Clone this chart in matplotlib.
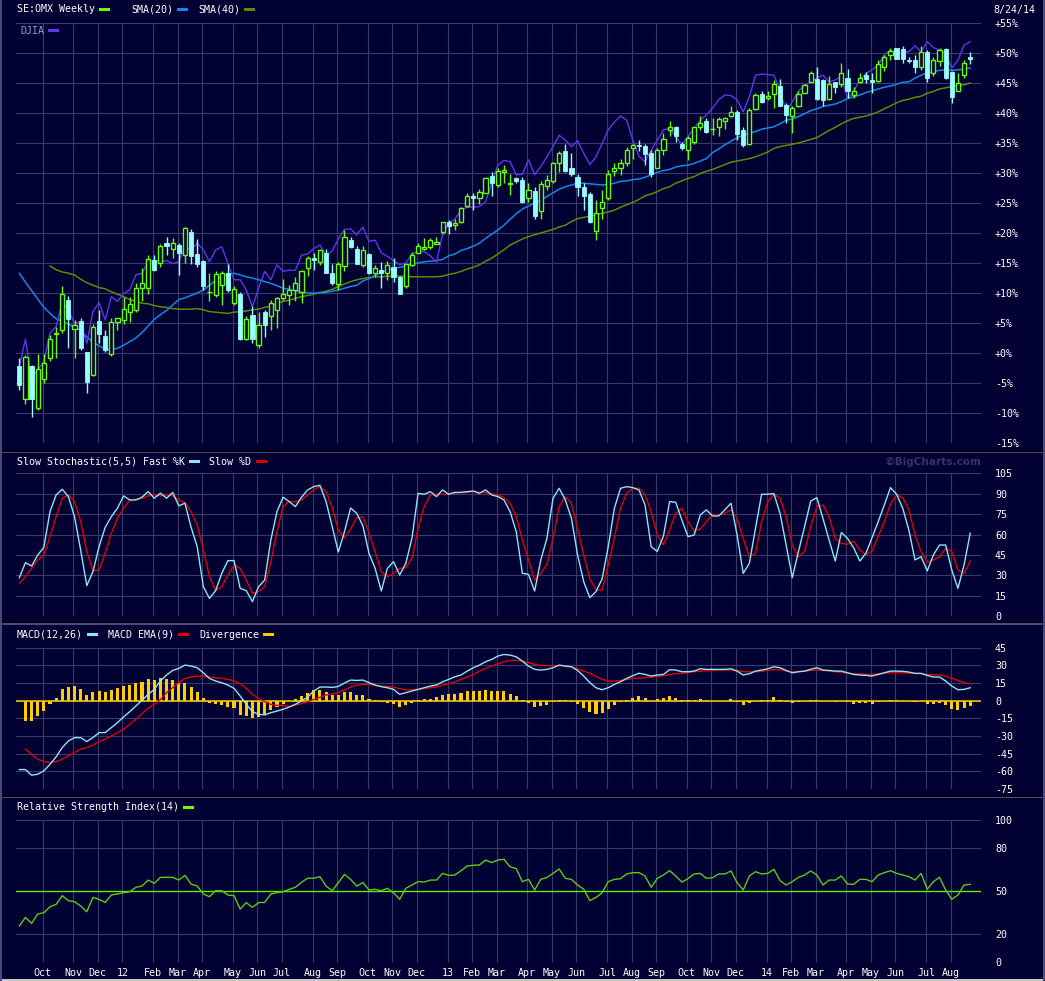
import numpy as np
import pandas as pd
import matplotlib
matplotlib.use("Agg")
import matplotlib.pyplot as plt
from matplotlib.patches import Rectangle

W, H = 1045, 981
BG      = "#000032"
GRID    = "#3a3a6c"
UP      = "#66ff00"
DOWN    = "#99ffff"
DJIA_C  = "#6035f0"
SMA20_C = "#1188e8"
SMA40_C = "#5f8a00"
K_C     = "#8ee6f2"
D_C     = "#e00000"
DIV_C   = "#ffcc00"
RSI_C   = "#5ccc10"
FONT    = "DejaVu Sans Mono"
FS      = 7.2

# weekly bars (week labelled by its Sunday), 2011-09-04 .. 2014-08-24
dates = pd.date_range("2011-09-04", "2014-08-24", freq="7D")

# --- SE:OMX weekly candles, % change ---
opens = [
    -2.2, -7.6, -2.2, -9.1, -4.4, -0.9, 3.1, 3.9, 8.8, 4.0,          # 0
    5.4, 0.2, -3.7, 5.4, 2.9, -0.2, 5.2, 5.5, 6.9, 7.2,               # 10
    10.8, 10.8, 15.5, 15.0, 18.3, 17.4, 18.0, 16.3, 20.2, 16.5,       # 20
    15.4, 10.1, 9.7, 11.3, 13.3, 8.4, 9.9, 2.3, 6.3, 1.4,             # 30
    6.9, 6.1, 7.2, 9.2, 9.6, 10.5, 10.2, 14.1, 15.8, 15.2,            # 40
    16.7, 13.3, 11.5, 14.5, 18.8, 17.3, 14.7, 16.5, 13.4, 13.9,       # 50
    13.3, 14.4, 12.7, 11.1, 14.7, 16.7, 17.3, 17.7, 18.2, 20.2,       # 60
    21.8, 21.3, 21.8, 24.5, 26.2, 25.9, 26.7, 29.5, 28.0, 30.2,       # 70
    28.1, 29.1, 28.8, 25.8, 27.0, 23.6, 27.8, 28.7, 31.6, 33.6,       # 80
    30.9, 29.4, 27.7, 26.5, 20.3, 24.1, 25.8, 30.4, 30.9, 31.6,       # 90
    34.1, 34.7, 34.5, 33.4, 30.9, 33.9, 37.2, 37.6, 34.8, 33.9,       # 100
    35.1, 37.7, 38.7, 37.3, 37.6, 38.6, 39.5, 40.2, 37.1, 34.8,       # 110
    40.6, 43.2, 42.5, 43.2, 44.5, 41.3, 39.5, 41.1, 43.4, 45.2,       # 120
    45.6, 45.5, 42.4, 45.1, 44.8, 45.8, 43.0, 45.2, 46.4, 45.5,       # 130
    45.4, 47.7, 49.7, 50.8, 50.6, 48.8, 48.8, 47.7, 50.1, 46.7,       # 140
    48.7, 50.6, 46.9, 43.7, 46.3, 49.3,                               # 150
]
highs = [
    -0.8, -0.3, -2.0, -0.2, -0.2, 3.0, 4.4, 11.2, 9.5, 5.5,
    5.8, 0.2, 4.9, 7.2, 3.8, 5.8, 5.9, 9.4, 9.4, 11.6,
    14.1, 16.3, 16.3, 18.2, 19.4, 19.1, 18.3, 21.0, 20.7, 19.0,
    15.5, 13.3, 13.6, 13.6, 14.9, 11.1, 10.2, 6.1, 7.8, 6.9,
    7.2, 8.8, 9.4, 12.3, 11.3, 12.7, 13.8, 16.1, 16.6, 17.4,
    17.3, 14.9, 15.2, 20.5, 19.3, 17.8, 17.8, 16.7, 14.7, 15.2,
    15.4, 15.8, 12.8, 14.9, 16.9, 18.3, 19.1, 19.1, 19.4, 21.9,
    22.1, 22.3, 24.3, 26.6, 26.7, 27.3, 29.4, 30.2, 30.8, 31.3,
    29.9, 29.4, 29.4, 28.3, 27.6, 28.6, 29.7, 31.9, 33.6, 34.8,
    33.3, 29.8, 28.3, 26.9, 25.5, 27.2, 30.5, 31.6, 32.4, 34.4,
    34.9, 35.5, 34.8, 33.8, 34.1, 36.6, 38.6, 37.8, 35.1, 36.2,
    37.7, 39.5, 39.1, 39.1, 39.3, 39.4, 41.2, 40.5, 37.7, 40.8,
    43.3, 43.6, 43.6, 45.5, 45.6, 41.6, 41.1, 43.7, 44.9, 47.0,
    47.6, 45.6, 46.1, 45.2, 48.3, 47.3, 44.4, 46.7, 46.9, 46.6,
    48.8, 49.7, 50.8, 50.9, 51.2, 49.4, 49.7, 51.1, 50.5, 49.3,
    50.9, 50.9, 47.0, 46.6, 48.8, 50.1,
]
lows = [
    -6.2, -8.5, -10.7, -9.5, -5.0, -1.4, -0.9, 3.3, 0.8, -0.9,
    0.5, -6.6, -3.9, 1.6, 0.2, -0.5, 3.8, 4.9, 5.2, 6.9,
    8.6, 9.9, 13.6, 14.4, 16.3, 15.8, 13.0, 15.0, 14.9, 14.4,
    10.5, 8.6, 9.4, 8.0, 10.2, 8.0, 2.2, 2.2, 1.6, 0.8,
    2.7, 3.9, 4.1, 8.8, 8.0, 8.6, 8.3, 12.8, 13.8, 14.7,
    13.3, 11.3, 10.5, 13.6, 17.5, 14.9, 14.4, 13.2, 12.7, 10.8,
    12.2, 11.9, 9.8, 10.9, 14.5, 16.6, 17.1, 17.3, 18.2, 19.9,
    19.8, 20.5, 21.6, 24.4, 23.8, 24.8, 26.6, 26.2, 27.6, 28.3,
    26.3, 28.3, 25.0, 25.2, 22.3, 22.4, 27.1, 28.3, 30.2, 30.2,
    29.5, 26.1, 23.8, 21.6, 18.8, 22.4, 25.5, 29.5, 29.7, 31.1,
    32.4, 33.6, 31.3, 29.4, 30.8, 33.0, 36.1, 35.2, 33.9, 32.2,
    34.9, 37.2, 36.7, 36.3, 36.1, 37.3, 39.4, 35.5, 34.4, 34.7,
    40.5, 41.6, 42.2, 40.8, 41.1, 38.3, 36.7, 41.0, 43.3, 45.1,
    42.1, 41.2, 42.2, 43.3, 44.4, 42.5, 42.5, 45.0, 45.0, 43.4,
    45.2, 47.0, 48.9, 49.0, 48.3, 48.3, 46.7, 47.2, 45.2, 46.2,
    47.8, 45.6, 41.6, 43.6, 45.9, 48.2,
]
closes = [
    -5.3, -0.7, -7.6, -2.6, -1.6, 2.4, 3.4, 9.9, 5.7, 4.7,
    0.8, -4.8, 4.4, 3.2, 0.5, 5.2, 5.8, 7.4, 8.2, 10.8,
    11.6, 15.6, 13.9, 17.8, 17.8, 18.4, 16.6, 20.8, 16.1, 14.9,
    11.1, 10.2, 13.1, 13.3, 10.5, 10.6, 2.3, 5.6, 2.3, 4.7,
    4.7, 8.3, 9.1, 9.8, 10.5, 11.6, 13.7, 15.8, 15.5, 17.1,
    13.4, 11.7, 14.9, 19.4, 17.7, 14.9, 17.1, 13.3, 14.1, 13.4,
    14.7, 12.7, 9.9, 14.8, 16.3, 17.8, 17.6, 18.8, 18.5, 21.8,
    21.2, 21.6, 24.1, 26.2, 25.9, 26.8, 29.1, 28.3, 30.4, 30.5,
    28.3, 28.7, 25.2, 27.2, 22.8, 28.2, 28.9, 31.6, 33.3, 30.4,
    29.9, 27.7, 26.2, 21.9, 23.3, 25.1, 29.8, 30.9, 31.6, 33.9,
    34.6, 34.5, 33.2, 29.9, 33.9, 35.6, 37.7, 36.1, 34.1, 35.8,
    37.6, 38.3, 36.9, 37.4, 39.0, 39.1, 40.2, 36.5, 34.7, 40.5,
    43.0, 41.9, 42.8, 44.8, 41.2, 39.7, 40.8, 43.2, 44.7, 46.7,
    42.3, 42.2, 44.8, 44.3, 46.7, 43.6, 43.7, 45.8, 45.6, 45.2,
    48.2, 49.3, 50.3, 49.0, 49.0, 48.6, 47.7, 50.1, 45.9, 48.8,
    50.5, 45.8, 42.7, 45.0, 48.4, 49.0,
]
djia = [
    -2.3, 2.3, -4.2, -2.8, -1.4, 3.3, 4.4, 8.6, 7.2, 4.9,
    5.2, 1.6, 6.9, 8.4, 5.5, 9.4, 8.6, 9.9, 10.5, 13.0,
    13.3, 15.2, 15.5, 15.2, 15.4, 14.9, 15.2, 17.7, 17.2, 18.3,
    17.2, 15.2, 17.2, 17.7, 14.9, 12.2, 12.2, 10.5, 7.7, 10.8,
    13.6, 12.2, 14.7, 13.6, 13.8, 13.8, 16.3, 16.5, 17.4, 18.0,
    16.3, 17.0, 19.0, 20.6, 20.7, 19.7, 21.0, 18.6, 18.8, 16.7,
    16.1, 15.4, 14.7, 15.0, 16.5, 16.9, 16.9, 16.2, 15.1, 19.8,
    21.6, 22.3, 23.8, 24.3, 24.3, 24.4, 25.2, 28.3, 31.3, 32.1,
    31.9, 29.7, 29.8, 32.2, 29.7, 31.1, 32.7, 34.4, 36.3, 35.5,
    34.4, 35.4, 33.3, 31.4, 32.7, 34.9, 37.2, 38.5, 39.5, 38.8,
    35.5, 32.8, 31.9, 33.8, 35.5, 37.2, 37.4, 36.1, 34.7, 36.1,
    37.4, 38.8, 39.7, 40.8, 42.2, 43.0, 42.9, 42.2, 40.2, 42.7,
    46.3, 46.5, 46.4, 46.3, 43.8, 40.2, 41.9, 43.6, 44.7, 45.1,
    45.8, 46.3, 45.2, 45.5, 46.1, 42.4, 43.6, 45.5, 46.6, 47.2,
    48.0, 49.7, 50.5, 49.4, 50.2, 50.2, 51.2, 50.2, 51.9, 50.9,
    50.5, 49.9, 47.5, 48.8, 51.3, 51.9,
]
sma20 = [
    13.3, 11.8, 10.4, 9.0, 7.6, 6.6, 5.7, 5.3, 4.8, 4.3,
    3.7, 2.7, 1.8, 1.2, 0.6, 0.55, 0.8, 1.3, 1.9, 2.5,
    3.4, 4.5, 5.6, 6.4, 7.1, 8.0, 8.9, 9.2, 9.6, 10.0,
    10.5, 11.3, 12.1, 12.8, 13.1, 13.3, 13.0, 12.7, 12.5, 12.2,
    11.9, 11.6, 11.2, 10.8, 10.6, 10.4, 10.1, 10.0, 10.0, 10.0,
    10.1, 10.3, 10.5, 10.8, 11.1, 11.3, 12.0, 12.4, 12.9, 13.4,
    13.8, 14.1, 14.3, 14.5, 14.8, 15.0, 15.2, 15.3, 15.4, 15.6,
    16.2, 16.5, 17.1, 17.4, 17.8, 18.3, 19.1, 19.8, 20.5, 21.3,
    22.3, 23.2, 24.0, 24.5, 25.0, 25.5, 26.1, 26.7, 27.3, 27.7,
    28.0, 28.3, 28.3, 28.2, 28.1, 28.0, 28.1, 28.3, 28.6, 28.7,
    28.9, 29.0, 29.3, 29.7, 30.1, 30.4, 30.6, 31.0, 31.2, 31.3,
    31.6, 32.0, 32.4, 33.4, 34.0, 34.7, 35.3, 35.9, 36.3, 36.6,
    36.9, 37.3, 37.5, 37.7, 38.2, 38.8, 39.0, 39.4, 39.9, 40.4,
    40.7, 41.1, 41.3, 41.5, 41.9, 42.4, 42.7, 43.0, 43.4, 43.7,
    44.0, 44.3, 44.5, 44.8, 45.1, 45.2, 45.8, 46.3, 46.7, 46.9,
    47.1, 47.2, 47.1, 47.2, 47.3, 47.5,
]
sma40 = [
    np.nan, np.nan, np.nan, np.nan, np.nan, 14.5, 13.9, 13.5, 13.3, 13.0,
    12.3, 11.7, 11.3, 10.9, 10.7, 10.2, 9.8, 9.4, 8.9, 8.6,
    8.3, 8.2, 7.9, 7.7, 7.6, 7.4, 7.3, 7.3, 7.3, 7.4,
    7.2, 6.9, 6.8, 6.7, 6.6, 6.8, 6.9, 7.0, 7.2, 7.3,
    7.6, 7.8, 8.2, 8.6, 8.8, 9.1, 9.4, 9.6, 9.8, 10.1,
    10.3, 10.6, 11.1, 11.5, 11.9, 12.2, 12.4, 12.6, 12.7, 12.7,
    12.8, 12.8, 12.8, 12.8, 12.7, 12.7, 12.7, 12.7, 12.7, 12.8,
    13.1, 13.3, 13.6, 14.0, 14.3, 14.7, 15.3, 15.8, 16.5, 17.2,
    18.0, 18.5, 19.0, 19.4, 19.7, 20.0, 20.3, 20.6, 21.0, 21.3,
    21.9, 22.4, 22.6, 22.8, 23.0, 23.3, 23.5, 23.8, 24.3, 24.7,
    25.1, 25.6, 26.2, 26.5, 26.9, 27.4, 27.7, 28.3, 28.7, 29.1,
    29.4, 29.9, 30.3, 30.6, 31.0, 31.4, 31.8, 32.0, 32.2, 32.4,
    32.7, 33.1, 33.5, 34.1, 34.4, 34.6, 34.8, 35.0, 35.3, 35.6,
    35.9, 36.5, 37.1, 37.6, 38.2, 38.7, 39.1, 39.3, 39.5, 39.8,
    40.2, 40.7, 41.2, 41.7, 42.1, 42.3, 42.6, 42.8, 43.3, 43.6,
    44.0, 44.2, 44.4, 44.6, 44.7, 45.0,
]

# --- Slow stochastic (5,5) ---
fast_k = [
    28.2, 39.3, 36.8, 44.9, 50.6, 76.9, 89.2, 93.4, 88.0, 73.2,
    48.6, 22.4, 32.7, 51.1, 65.4, 73.2, 79.4, 88.5, 85.5, 85.5,
    87.5, 91.7, 86.8, 90.5, 86.8, 91.0, 81.2, 83.1, 65.4, 51.1,
    21.6, 13.0, 18.7, 31.5, 40.8, 40.8, 20.4, 18.7, 10.6, 21.6,
    26.5, 56.0, 76.9, 87.5, 84.3, 80.6, 87.5, 92.9, 95.3, 96.3,
    84.3, 66.0, 47.2, 62.0, 79.6, 75.7, 66.6, 46.2, 35.1, 18.4,
    35.1, 40.0, 30.2, 38.8, 57.2, 90.4, 89.7, 91.6, 88.0, 92.9,
    89.7, 91.1, 91.1, 91.6, 92.1, 90.4, 92.9, 89.2, 88.0, 85.5,
    76.9, 62.2, 31.5, 30.7, 18.4, 41.3, 57.2, 86.8, 94.1, 85.5,
    72.0, 45.0, 25.3, 13.5, 18.0, 27.3, 51.1, 79.4, 94.1, 95.3,
    94.6, 92.9, 81.8, 51.1, 47.6, 59.0, 84.3, 83.8, 70.7, 58.5,
    59.7, 74.5, 78.2, 73.7, 73.7, 78.2, 83.1, 59.7, 31.4, 38.8,
    64.6, 89.7, 89.7, 90.2, 75.7, 52.3, 28.2, 47.4, 65.8, 84.7,
    87.2, 71.9, 56.0, 40.5, 61.6, 57.2, 50.3, 40.5, 46.2, 57.7,
    69.5, 81.8, 94.6, 89.7, 79.4, 63.4, 41.3, 43.7, 33.2, 45.0,
    52.3, 52.3, 33.9, 20.4, 37.6, 61.0,
]
slow_d = [
    24.1, 29.0, 35.1, 41.3, 44.9, 58.5, 73.2, 86.8, 89.2, 84.3,
    69.6, 47.5, 33.4, 33.9, 46.2, 61.0, 72.0, 79.4, 85.5, 86.0,
    86.8, 88.5, 89.2, 88.5, 89.2, 88.5, 85.5, 83.6, 76.9, 67.1,
    48.6, 29.0, 18.7, 21.6, 30.2, 37.6, 35.1, 26.5, 16.7, 17.9,
    21.6, 40.0, 62.2, 80.6, 84.3, 84.3, 85.5, 89.2, 92.9, 95.3,
    91.7, 80.0, 63.4, 57.5, 64.0, 72.5, 73.0, 61.0, 47.4, 32.7,
    29.0, 31.4, 35.1, 35.6, 42.5, 64.6, 80.6, 89.2, 89.7, 89.7,
    90.2, 90.4, 90.9, 91.1, 91.6, 91.1, 90.9, 89.9, 89.2, 87.2,
    83.0, 73.2, 56.0, 41.3, 26.5, 31.4, 38.1, 57.2, 80.6, 88.0,
    83.0, 64.6, 45.0, 27.3, 19.2, 19.2, 37.6, 57.7, 79.4, 90.4,
    94.1, 94.1, 89.2, 76.9, 59.7, 52.3, 63.4, 75.7, 79.4, 69.5,
    62.6, 64.1, 69.5, 74.9, 74.5, 75.7, 78.2, 72.0, 57.2, 43.7,
    46.2, 69.5, 84.3, 89.7, 86.8, 73.2, 52.3, 43.7, 47.4, 65.8,
    80.6, 81.8, 73.2, 57.2, 53.5, 52.8, 55.2, 48.6, 45.4, 47.9,
    58.5, 69.5, 82.3, 89.2, 87.2, 78.2, 59.7, 47.4, 39.6, 41.3,
    43.7, 49.9, 47.4, 33.9, 31.4, 40.5,
]

# --- MACD (12,26), EMA(9), divergence ---
macd = [
    -58.5, -58.5, -63.3, -62.4, -59.6, -54.0, -47.7, -39.8, -34.2, -31.4,
    -31.4, -34.7, -31.4, -27.1, -27.1, -22.9, -18.6, -13.8, -9.3, -4.5,
    0.3, 5.4, 9.6, 16.7, 21.8, 25.7, 27.4, 30.2, 29.4, 28.0,
    23.7, 18.9, 16.7, 15.3, 13.3, 10.5, 4.0, -3.1, -9.3, -11.6,
    -12.1, -10.2, -8.8, -7.3, -5.4, -3.1, -0.3, 3.1, 8.2, 11.6,
    11.6, 11.3, 12.1, 15.0, 17.5, 17.2, 17.5, 15.3, 13.3, 11.9,
    11.0, 9.6, 5.4, 6.8, 8.2, 9.6, 11.0, 12.4, 13.3, 16.1,
    18.1, 20.3, 21.8, 25.1, 28.0, 30.2, 33.1, 35.0, 37.9, 39.3,
    38.7, 37.3, 33.6, 29.4, 26.6, 26.0, 26.6, 28.0, 30.2, 29.4,
    28.8, 25.7, 20.9, 15.3, 11.0, 9.3, 11.0, 13.8, 16.1, 18.9,
    21.2, 23.3, 22.3, 20.9, 21.8, 22.3, 26.3, 26.0, 24.6, 24.6,
    25.1, 27.1, 26.6, 26.6, 26.6, 26.6, 27.1, 25.1, 21.8, 22.9,
    25.1, 26.0, 27.1, 28.8, 28.0, 25.7, 23.7, 24.6, 25.1, 26.6,
    28.0, 26.0, 25.7, 25.1, 25.1, 23.7, 22.3, 21.8, 21.5, 20.9,
    22.3, 23.7, 25.1, 25.1, 24.9, 24.3, 23.2, 23.2, 21.5, 20.1,
    20.1, 16.7, 12.4, 9.3, 9.6, 11.0,
]
macd_ema = [
    np.nan, -41.2, -45.5, -49.7, -51.7, -52.5, -51.7, -49.7, -46.9, -44.1,
    -41.2, -39.8, -37.6, -34.7, -32.8, -29.9, -27.1, -24.3, -20.1, -15.8,
    -11.0, -6.5, -3.1, 1.1, 6.8, 11.0, 15.3, 18.9, 20.1, 20.9,
    20.9, 20.1, 19.5, 18.9, 18.1, 16.7, 14.4, 10.5, 5.4, 2.0,
    -0.8, -3.1, -4.0, -4.0, -4.8, -3.7, -2.5, -0.8, 1.1, 3.1,
    4.8, 5.9, 7.0, 9.2, 11.6, 13.0, 13.8, 13.8, 13.0, 12.4,
    12.1, 11.6, 10.2, 9.3, 9.3, 9.6, 10.2, 11.0, 11.6, 13.3,
    14.4, 16.1, 18.1, 20.1, 22.3, 25.1, 27.4, 29.4, 31.4, 33.1,
    34.2, 34.2, 33.6, 32.2, 30.8, 29.9, 29.7, 29.7, 29.9, 29.7,
    28.8, 27.1, 25.1, 23.4, 20.6, 18.1, 16.7, 16.7, 17.2, 18.1,
    18.9, 19.2, 19.5, 20.1, 20.6, 21.2, 22.3, 22.9, 23.2, 24.0,
    24.6, 25.1, 25.4, 25.7, 26.0, 26.0, 26.0, 25.7, 24.6, 24.6,
    24.6, 25.1, 25.7, 26.3, 26.3, 25.1, 24.6, 24.6, 25.1, 25.7,
    26.0, 25.7, 25.1, 24.6, 24.3, 23.4, 22.9, 22.9, 22.3, 22.3,
    22.9, 23.4, 23.7, 23.7, 23.7, 23.4, 23.2, 22.9, 22.3, 22.0,
    21.8, 20.9, 18.9, 17.2, 15.3, 14.4,
]
divergence = [
    np.nan, -17.2, -17.2, -13.0, -8.8, -3.1, 2.0, 9.6, 11.6, 12.4,
    9.6, 4.8, 7.1, 7.9, 7.1, 8.8, 10.5, 12.4, 13.0, 14.7,
    15.5, 18.1, 17.2, 18.9, 18.1, 17.2, 14.7, 14.7, 11.3, 7.1,
    2.0, -2.0, -3.1, -4.0, -5.4, -5.9, -12.1, -13.3, -14.7, -13.8,
    -12.1, -8.2, -5.4, -3.1, 0.0, 1.1, 3.7, 6.2, 8.8, 8.8,
    7.1, 4.8, 4.8, 7.1, 7.1, 4.8, 4.8, 1.1, 0.2, -1.1,
    -1.7, -2.5, -5.4, -3.7, -2.0, 0.2, 1.1, 1.7, 2.8, 4.5,
    5.4, 5.4, 6.2, 7.9, 7.9, 7.9, 8.8, 7.9, 7.9, 7.9,
    5.4, 3.7, 0.2, -2.0, -5.4, -4.5, -3.7, -1.4, 0.2, 0.2,
    -0.8, -3.1, -5.9, -9.9, -11.3, -10.7, -7.3, -3.7, -0.8, 0.8,
    2.5, 3.7, 2.5, 0.0, 1.1, 2.0, 3.7, 2.5, 0.8, 0.8,
    0.8, 1.7, 0.8, 0.0, 0.0, 0.0, 1.1, -0.8, -3.7, -2.0,
    0.0, 0.8, 0.8, 2.8, 0.8, -0.8, -2.0, -0.8, 0.0, 0.8,
    0.8, 0.0, 0.0, -0.8, 0.0, -0.8, -2.8, -1.7, -1.7, -2.8,
    -0.8, 0.0, 0.8, 0.8, 0.0, 0.0, -0.8, 0.0, -2.8, -2.8,
    -1.7, -3.7, -7.1, -7.9, -6.5, -4.8,
]

# --- RSI (14) ---
rsi = [
    25.4, 31.4, 27.2, 33.8, 34.7, 38.9, 40.6, 46.7, 43.2, 42.5,
    39.4, 35.4, 45.5, 44.1, 42.0, 47.2, 47.9, 48.8, 49.5, 52.6,
    53.5, 57.7, 55.4, 59.6, 59.6, 59.6, 57.7, 61.0, 54.9, 53.5,
    47.9, 46.0, 50.2, 50.2, 47.2, 46.7, 37.3, 41.8, 38.5, 41.8,
    42.0, 47.9, 48.8, 49.5, 51.2, 52.6, 56.1, 59.0, 59.0, 60.1,
    53.5, 50.2, 55.9, 61.7, 58.2, 53.5, 55.9, 50.7, 51.2, 50.2,
    51.9, 48.8, 44.1, 51.9, 54.2, 56.6, 56.3, 57.7, 57.7, 62.4,
    61.0, 61.3, 64.3, 67.6, 68.1, 68.3, 71.8, 70.0, 71.8, 72.3,
    67.1, 65.7, 56.6, 58.2, 50.7, 58.2, 59.5, 62.4, 65.5, 58.9,
    58.2, 54.2, 51.2, 43.2, 45.5, 48.8, 56.6, 58.2, 58.7, 62.0,
    62.9, 62.9, 60.6, 52.6, 58.9, 61.3, 64.3, 60.6, 56.3, 58.7,
    62.0, 62.4, 58.9, 59.4, 62.0, 62.0, 64.1, 55.9, 50.7, 60.6,
    63.6, 62.0, 62.4, 65.3, 57.3, 54.2, 56.6, 59.6, 61.3, 64.1,
    61.3, 54.2, 57.7, 57.7, 60.6, 54.9, 54.7, 58.2, 58.2, 56.6,
    61.3, 62.9, 64.3, 62.4, 61.3, 60.1, 57.7, 62.4, 51.2, 56.6,
    59.6, 50.7, 44.1, 47.2, 54.2, 54.7,
]

MAIN_TICKS  = list(range(-15, 56, 5))
STOCH_TICKS = list(range(0, 106, 15))
MACD_TICKS  = list(range(-75, 46, 15))
RSI_TICKS   = [0, 20, 50, 80, 100]

# month gridlines sit on the first weekly bar of each month
month_idx = [i for i in range(1, len(dates)) if dates[i].month != dates[i - 1].month]
month_lbl = ["%02d" % (dates[i].year % 100) if dates[i].month == 1 else dates[i].strftime("%b")
             for i in month_idx]
month_pos = [i - 0.2 for i in month_idx]

fig = plt.figure(figsize=(W / 100, H / 100), dpi=100, facecolor=BG)


def px_axes(top, bottom, ylim, yticks, ylabels, hgrid):
    ax = fig.add_axes([16 / W, 1 - bottom / H, 965 / W, (bottom - top) / H])
    ax.set_facecolor(BG)
    ax.set_xlim(-0.54, 156.76)
    ax.set_ylim(*ylim)
    for s in ax.spines.values():
        s.set_visible(False)
    for v in hgrid:
        ax.axhline(v, color=GRID, lw=0.8, zorder=0)
    for p in month_pos:
        ax.axvline(p, color=GRID, lw=0.8, zorder=0)
    ax.yaxis.tick_right()
    ax.set_yticks(yticks)
    ax.set_yticklabels(ylabels, family=FONT, fontsize=FS, color="white")
    ax.tick_params(axis="y", length=0, pad=10)
    ax.set_xticks([])
    return ax


def text_px(x, y, s, color="white", ha="left", **kw):
    fig.text(x / W, 1 - y / H, s, color=color, ha=ha, va="center",
             family=kw.pop("family", FONT), fontsize=kw.pop("fontsize", FS), **kw)


def swatch(x, y, color, w=11, h=3):
    fig.add_artist(Rectangle((x / W, 1 - (y + h / 2) / H), w / W, h / H,
                             transform=fig.transFigure, color=color, lw=0))


def hband(y0, y1, color):
    fig.add_artist(Rectangle((0, 1 - y1 / H), 1, (y1 - y0) / H,
                             transform=fig.transFigure, color=color, lw=0))


# --- price panel ---
ax1 = px_axes(23, 443, (-15, 55), MAIN_TICKS, [f"{v:+d}%" for v in MAIN_TICKS], MAIN_TICKS)
ax1.plot(np.arange(len(sma40)), sma40, color=SMA40_C, lw=1.1, zorder=2)
ax1.plot(np.arange(len(sma20)), sma20, color=SMA20_C, lw=1.1, zorder=2)
ax1.plot(np.arange(len(djia)), djia, color=DJIA_C, lw=1.0, zorder=2)

o = np.array(opens); h = np.array(highs); l = np.array(lows); c = np.array(closes)
n = min(len(o), len(h), len(l), len(c))
o, h, l, c = o[:n], h[:n], l[:n], c[:n]
xs = np.arange(n)
up = c >= o
body_lo = np.minimum(o, c)
body_hi = np.maximum(o, c)
col = np.where(up, UP, DOWN)
ax1.vlines(xs, l, body_lo, colors=col, lw=1.0, zorder=3)
ax1.vlines(xs, body_hi, h, colors=col, lw=1.0, zorder=3)
ax1.bar(xs[~up], (body_hi - body_lo)[~up], bottom=body_lo[~up], width=0.68,
        color=DOWN, edgecolor=DOWN, lw=0.6, zorder=4)
ax1.bar(xs[up], np.maximum((body_hi - body_lo)[up], 0.08), bottom=body_lo[up], width=0.68,
        facecolor=BG, edgecolor=UP, lw=1.0, zorder=4)

# --- stochastic panel ---
ax2 = px_axes(473.5, 616, (0, 105), STOCH_TICKS, [str(v) for v in STOCH_TICKS], STOCH_TICKS)
ax2.plot(np.arange(len(fast_k)), fast_k, color=K_C, lw=1.0, zorder=3)
ax2.plot(np.arange(len(slow_d)), slow_d, color=D_C, lw=1.0, zorder=2)

# --- MACD panel ---
ax3 = px_axes(647.7, 789, (-75, 45), MACD_TICKS[::-1], [str(v) for v in MACD_TICKS[::-1]], MACD_TICKS)
ax3.bar(np.arange(len(divergence)), divergence, width=0.5, color=DIV_C, lw=0, zorder=2)
ax3.axhline(0, color=DIV_C, lw=1.1, zorder=2)
ax3.plot(np.arange(len(macd_ema)), macd_ema, color=D_C, lw=1.0, zorder=3)
ax3.plot(np.arange(len(macd)), macd, color=K_C, lw=1.0, zorder=3)

# --- RSI panel ---
ax4 = px_axes(820, 962, (0, 100), RSI_TICKS, [str(v) for v in RSI_TICKS], [0, 20, 80, 100])
ax4.axhline(50, color="#66ee00", lw=1.0, zorder=1)
ax4.plot(np.arange(len(rsi)), rsi, color=RSI_C, lw=1.0, zorder=3)
ax4.set_xticks(month_pos)
ax4.set_xticklabels(month_lbl, family=FONT, fontsize=FS, color="white")
ax4.tick_params(axis="x", length=0, pad=4)

# --- panel separators and frame ---
hband(449.5, 451.5, "#000010"); hband(451.5, 453, "#4a4a7c")
hband(621.5, 623.3, "#000010"); hband(623.3, 624.6, "#4a4a7c")
hband(795.0, 796.8, "#000010"); hband(796.8, 798.3, "#4a4a7c")
hband(978.5, 981, "#c8c8c8")
fig.add_artist(Rectangle((0, 0), 1.5 / W, 1, transform=fig.transFigure, color="#4a4a7c", lw=0))
fig.add_artist(Rectangle((1 - 2 / W, 0), 2 / W, 1, transform=fig.transFigure, color="#4a4a7c", lw=0))

# --- titles and legends ---
text_px(17, 9.5, "SE:OMX Weekly")
swatch(99, 9.5, UP)
text_px(131, 9.5, "SMA(20)")
swatch(177, 9.5, SMA20_C)
text_px(198, 9.5, "SMA(40)")
swatch(244, 9.5, SMA40_C)
text_px(993, 9.5, "8/24/14")
text_px(20, 30.5, "DJIA", color="#9a9ac8")
swatch(48, 30.5, DJIA_C)

text_px(17, 461.5, "Slow Stochastic(5,5) Fast %K")
swatch(189, 461.5, K_C)
text_px(209, 461.5, "Slow %D")
swatch(256, 461.5, D_C)
text_px(981, 461.5, "©BigCharts.com", color="#34346e", ha="right",
        family="DejaVu Sans", fontsize=7.6, fontweight="bold")

text_px(17, 634.5, "MACD(12,26)")
swatch(87, 634.5, K_C)
text_px(108, 634.5, "MACD EMA(9)")
swatch(178, 634.5, D_C)
text_px(199, 634.5, "Divergence")
swatch(263, 634.5, DIV_C)

text_px(17, 807.5, "Relative Strength Index(14)")
swatch(183, 807.5, UP)

fig.savefig("out.png", dpi=100, facecolor=BG)
